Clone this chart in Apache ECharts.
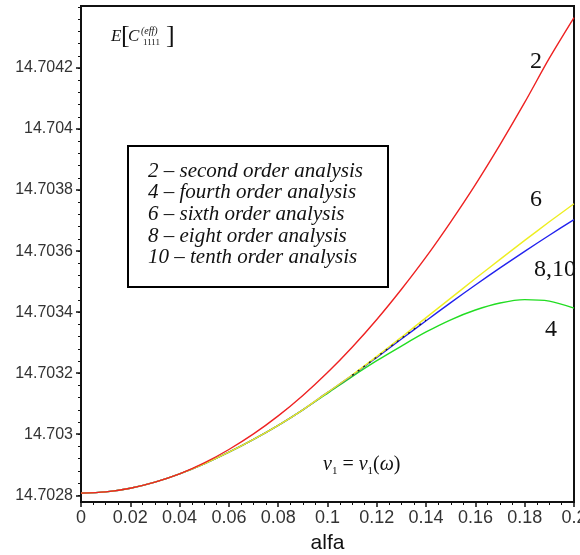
<!DOCTYPE html>
<html>
<head>
<meta charset="utf-8">
<script src="https://cdn.jsdelivr.net/npm/echarts@6/dist/echarts.min.js"></script>
<style>
html,body{margin:0;padding:0;background:#fff;}
#chart{width:580px;height:555px;}
</style>
</head>
<body>
<div id="chart"></div>
<script>
// ---- data ----
const alfa = [0, 0.01, 0.02, 0.03, 0.04, 0.05, 0.06, 0.07, 0.08, 0.09, 0.10,
              0.11, 0.12, 0.13, 0.14, 0.15, 0.16, 0.17, 0.18, 0.19, 0.20];
const order2 = [14.702807, 14.702811, 14.702823, 14.702843, 14.702870, 14.702906, 14.702950,
                14.703001, 14.703060, 14.703127, 14.703202, 14.703285, 14.703376, 14.703475,
                14.703581, 14.703696, 14.703818, 14.703949, 14.704087, 14.704232, 14.704365];
const order4 = [14.702807, 14.702811, 14.702823, 14.702843, 14.702870, 14.702903, 14.702941,
                14.702983, 14.703029, 14.703080, 14.703134, 14.703189, 14.703241, 14.703289,
                14.703335, 14.703375, 14.703407, 14.703430, 14.703441, 14.703436, 14.703413];
const order6 = [14.702807, 14.702811, 14.702823, 14.702843, 14.702870, 14.702903, 14.702941,
                14.702983, 14.703029, 14.703080, 14.703137, 14.703194, 14.703255, 14.703318,
                14.703382, 14.703446, 14.703510, 14.703573, 14.703635, 14.703696, 14.703755];
const order8 = [14.702807, 14.702811, 14.702823, 14.702843, 14.702870, 14.702903, 14.702941,
                14.702983, 14.703029, 14.703080, 14.703137, 14.703193, 14.703252, 14.703312,
                14.703372, 14.703431, 14.703489, 14.703545, 14.703599, 14.703652, 14.703703];
const order10 = [null, null, null, null, null, null, null, null, null, null, null,
                 14.703193, 14.703253, 14.703314, 14.703374, null, null, null, null, null, null];
const yTickLabels = [14.7028, 14.7030, 14.7032, 14.7034, 14.7036, 14.7038, 14.7040, 14.7042];
const yMinorTicks = [14.70280, 14.70284, 14.70288, 14.70292, 14.70296, 14.70300, 14.70304, 14.70308,
                     14.70312, 14.70316, 14.70320, 14.70324, 14.70328, 14.70332, 14.70336, 14.70340,
                     14.70344, 14.70348, 14.70352, 14.70356, 14.70360, 14.70364, 14.70368, 14.70372,
                     14.70376, 14.70380, 14.70384, 14.70388, 14.70392, 14.70396, 14.70400, 14.70404,
                     14.70408, 14.70412, 14.70416, 14.70420, 14.70424, 14.70428, 14.70432, 14.70436, 14.70440];
const legendLines = ['2 – second order analysis', '4 – fourth order analysis', '6 – sixth order analysis',
                     '8 – eight order analysis', '10 – tenth order analysis'];
const curveLabels = ['2', '6', '8,10', '4'];

// ---- chart ----
const pairs = arr => alfa.map((a, i) => [a, arr[i]]);
const Y_MIN = 14.702778, Y_MAX = 14.704403;
const serif = '"Liberation Serif", "Times New Roman", serif';
const sans = '"Liberation Sans", Arial, sans-serif';
const chart = echarts.init(document.getElementById('chart'), null, {renderer: 'canvas'});

function line(name, arr, color, extra) {
  return Object.assign({
    name, type: 'line', data: pairs(arr), showSymbol: false, symbol: 'none',
    smooth: 0.3, connectNulls: false, animation: false,
    lineStyle: {color, width: 1.4}, z: 3
  }, extra || {});
}

const legendX = 148, legendY0 = 171, legendDy = 21.7;
const graphics = [
  {type: 'rect', shape: {x: 128, y: 146, width: 260, height: 141},
   style: {fill: '#fff', stroke: '#000', lineWidth: 2}, z: 10}
];
legendLines.forEach((t, i) => graphics.push({
  type: 'text', x: legendX, y: legendY0 + i * legendDy, z: 11,
  style: {text: t, font: 'italic 21px ' + serif, fill: '#111', verticalAlign: 'middle', align: 'left'}
}));
const curvePos = [[536, 62], [536, 200], [555, 270], [551, 330]];
curveLabels.forEach((t, i) => graphics.push({
  type: 'text', x: curvePos[i][0], y: curvePos[i][1], z: 11,
  style: {text: t, font: '24px ' + serif, fill: '#111', align: 'center', verticalAlign: 'middle'}
}));
// title E[C^(eff)_1111]
graphics.push(
  {type: 'text', x: 111, y: 37, z: 11, style: {text: 'E', font: 'italic 17px ' + serif, fill: '#111', verticalAlign: 'middle'}},
  {type: 'text', x: 121, y: 36, z: 11, style: {text: '[', font: '26px ' + serif, fill: '#111', verticalAlign: 'middle'}},
  {type: 'text', x: 128, y: 37, z: 11, style: {text: 'C', font: 'italic 17px ' + serif, fill: '#111', verticalAlign: 'middle'}},
  {type: 'text', x: 141, y: 31, z: 11, style: {text: '(eff)', font: 'italic 10px ' + serif, fill: '#111', verticalAlign: 'middle'}},
  {type: 'text', x: 143, y: 43, z: 11, style: {text: '1111', font: '9px ' + serif, fill: '#111', verticalAlign: 'middle'}},
  {type: 'text', x: 166, y: 36, z: 11, style: {text: ']', font: '26px ' + serif, fill: '#111', verticalAlign: 'middle'}}
);
// nu_1 = nu_1(omega)
graphics.push({
  type: 'text', x: 323, y: 465, z: 11,
  style: {
    text: '{i|ν}{s|1}{n| = }{i|ν}{s|1}{n|(}{i|ω}{n|)}',
    verticalAlign: 'middle', align: 'left',
    rich: {
      i: {font: 'italic 20px ' + serif, fill: '#111', lineHeight: 24, verticalAlign: 'middle'},
      n: {font: '20px ' + serif, fill: '#111', lineHeight: 24, verticalAlign: 'middle'},
      s: {font: '11px ' + serif, fill: '#111', lineHeight: 24, verticalAlign: 'bottom'}
    }
  }
});

const option = {
  animation: false,
  backgroundColor: '#fff',
  grid: {left: 81, right: 6, top: 6, bottom: 53, show: true, borderColor: '#111', borderWidth: 2,
         containLabel: false, outerBoundsMode: 'none'},
  xAxis: {
    type: 'value', min: 0, max: 0.2, interval: 0.02,
    name: 'alfa', nameLocation: 'middle', nameGap: 31,
    nameTextStyle: {fontFamily: sans, fontSize: 21, color: '#111'},
    axisLine: {show: true, onZero: false, lineStyle: {color: '#111', width: 2}},
    axisTick: {show: true, length: 5, lineStyle: {color: '#111', width: 1.5}},
    minorTick: {show: true, splitNumber: 4, length: 3, lineStyle: {color: '#111', width: 1}},
    splitLine: {show: false},
    axisLabel: {fontFamily: sans, fontSize: 18, color: '#333', margin: 7,
                formatter: v => String(+v.toFixed(2))}
  },
  yAxis: [{
    type: 'value', min: Y_MIN, max: Y_MAX, position: 'left',
    axisLine: {show: true, onZero: false, lineStyle: {color: '#111', width: 2}},
    axisTick: {show: true, length: 5, customValues: yTickLabels, lineStyle: {color: '#111', width: 1.5}},
    splitLine: {show: false},
    axisLabel: {fontFamily: sans, fontSize: 16, color: '#333', margin: 8, customValues: yTickLabels,
                formatter: v => String(+(+v).toFixed(4))}
  }, {
    type: 'value', min: Y_MIN, max: Y_MAX, position: 'left',
    axisLine: {show: false},
    axisTick: {show: true, length: 3, customValues: yMinorTicks, lineStyle: {color: '#111', width: 1}},
    axisLabel: {show: false}, splitLine: {show: false}
  }],
  series: [
    line('4', order4, '#22dd22'),
    line('8', order8, '#2222ee'),
    line('6', order6, '#eeee22'),
    line('10', order10, '#111', {lineStyle: {color: '#222', width: 1.4, type: [2, 5]}, smooth: false}),
    line('2', order2, '#ee2222')
  ],
  graphic: graphics
};
chart.setOption(option);
</script>
</body>
</html>
